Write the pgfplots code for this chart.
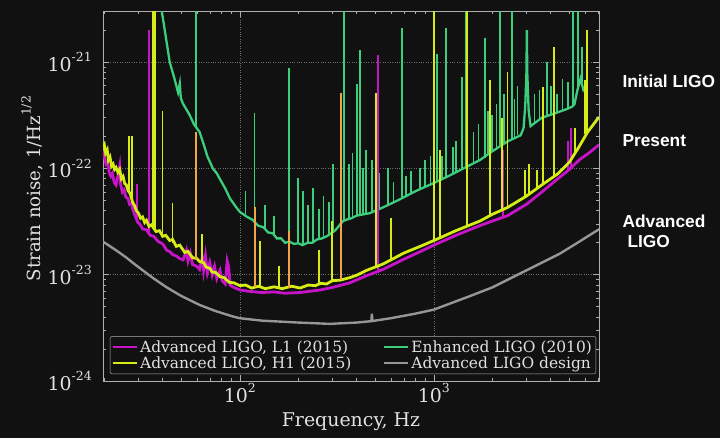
\documentclass[border=0pt]{standalone}
\usepackage{pgfplots}
\pgfplotsset{compat=1.18}
\usepackage{fontspec}
\setmainfont{DejaVu Serif}
\newfontfamily\annfont{Liberation Sans}

\definecolor{bgc}{RGB}{17,17,17}
\definecolor{txtc}{RGB}{225,225,225}
\definecolor{framec}{RGB}{175,175,175}
\definecolor{gridc}{RGB}{110,110,110}
\definecolor{lone}{RGB}{200,20,200}
\definecolor{hone}{RGB}{215,235,20}
\definecolor{enh}{RGB}{60,205,125}
\definecolor{des}{RGB}{150,150,150}
\definecolor{ovl}{RGB}{240,165,70}

\newcommand{\tsup}[1]{\raisebox{0.52em}{\fontsize{12.5}{12.5}\selectfont #1}}

\begin{document}
\begin{tikzpicture}
\fill[bgc] (0bp,0bp) rectangle (720bp,438bp);
\begin{axis}[
    at={(103bp,57bp)}, anchor=south west,
    scale only axis, width=496bp, height=370bp,
    xmode=log, ymode=log,
    xmin=19.7, xmax=7100, ymin=1e-24, ymax=3.03e-21,
    axis line style={framec, line width=0.8pt},
    tick align=inside, tick pos=both,
    major tick length=6bp, minor tick length=3bp,
    every tick/.style={framec, line width=0.6pt},
    grid=major, major grid style={gridc, dotted, line width=0.7pt},
    xtick={100,1000}, xticklabels={10\tsup{2},10\tsup{3}},
    minor xtick={20,30,40,50,60,70,80,90,200,300,400,500,600,700,800,900,2000,3000,4000,5000,6000,7000},
    ytick={1e-24,1e-23,1e-22,1e-21},
    yticklabels={10\tsup{-24},10\tsup{-23},10\tsup{-22},10\tsup{-21}},
    minor ytick={2e-24,3e-24,4e-24,5e-24,6e-24,7e-24,8e-24,9e-24,2e-23,3e-23,4e-23,5e-23,6e-23,7e-23,8e-23,9e-23,2e-22,3e-22,4e-22,5e-22,6e-22,7e-22,8e-22,9e-22,2e-21,3e-21},
    tick label style={font=\fontsize{19}{21}\selectfont, text=txtc},
    xticklabel style={anchor=north, inner sep=0pt, yshift=-2bp},
    yticklabel style={anchor=east, inner sep=0pt, xshift=-11bp},
    label style={text=txtc},
    xlabel={Frequency, Hz},
    xlabel style={font=\fontsize{19}{21}\selectfont, at={(axis description cs:0.5,-0.1216)}, anchor=base},
    ylabel={Strain noise, 1/Hz\tsup{1/2}},
    ylabel style={font=\fontsize{18.2}{20}\selectfont, at={(axis description cs:-0.127,0.52)}, anchor=base},
    legend columns=2,
    legend cell align=left,
    legend image code/.code={\draw[#1] (0bp,0bp) -- (24bp,0bp);},
    legend style={at={(0.014,0.019)}, anchor=south west, fill=bgc, draw=framec,
        rounded corners=2bp, text=txtc, font=\fontsize{15.5}{17}\selectfont,
        inner sep=2bp, row sep=-1bp,
        /tikz/every even column/.append style={column sep=30bp}},
    unbounded coords=jump,
]
% legend entries, row by row
\addlegendimage{lone, line width=2pt}
\addlegendentry{Advanced LIGO, L1 (2015)}
\addlegendimage{enh, line width=2pt}
\addlegendentry{Enhanced LIGO (2010)}
\addlegendimage{hone, line width=2pt}
\addlegendentry{Advanced LIGO, H1 (2015)}
\addlegendimage{des, line width=2pt}
\addlegendentry{Advanced LIGO design}

% Advanced LIGO design
\addplot[des, line width=2.4pt, forget plot] coordinates {
    (19.7,2.05e-23) (23,1.7e-23) (26,1.45e-23) (28,1.3e-23) (32,1.08e-23)
    (36,9.2e-24) (42,7.6e-24) (50,6.3e-24) (62,5.2e-24) (75,4.55e-24)
    (92,4.05e-24) (100,3.9e-24) (130,3.7e-24) (200,3.55e-24) (291,3.45e-24)
    (400,3.55e-24) (476,3.66e-24) (479,4.3e-24) (482,3.67e-24) (600,3.9e-24)
    (800,4.3e-24) (1000,4.7e-24) (1500,6.2e-24) (2000,7.6e-24) (2466,9.2e-24)
    (3000,1.1e-23) (4460,1.58e-23) (5500,2.0e-23) (7100,2.68e-23)
};

% Enhanced LIGO (2010)
\addplot[enh, line width=2.3pt, forget plot] coordinates {
    (38,4e-21) (39.6,3.0e-21) (41,2.0e-21) (43.5,1.0e-21) (46,7e-22)
    (48,5.2e-22) (49,6.3e-22) (49.6,4.6e-22) (50.8,4.1e-22) (55,3.2e-22)
    (58,2.6e-22) (62,2.2e-22) (65,1.7e-22) (68,1.3e-22) (72.6,1.0e-22)
    (76,9.0e-23) (80,7.6e-23) (84,6.5e-23) (89,5.2e-23) (95,4.4e-23)
    (100,3.9e-23) (109,3.5e-23) (116,3.3e-23) (124,2.9e-23) (132,2.8e-23)
    (140,2.5e-23) (148,2.45e-23) (155,2.2e-23) (163,2.2e-23) (171,2.0e-23)
    (180,2.05e-23) (190,1.95e-23) (200,1.98e-23) (210,1.9e-23) (224,2.0e-23)
    (236,2.0e-23) (250,2.15e-23) (265,2.2e-23) (280,2.3e-23) (295,2.45e-23)
    (309,2.6e-23) (320,2.8e-23) (330,3.0e-23) (340,3.2e-23) (355,3.3e-23)
    (375,3.4e-23) (400,3.6e-23) (468,3.8e-23) (546,4.3e-23) (650,5.0e-23)
    (817,6.2e-23) (1000,7.3e-23) (1208,8.6e-23) (1450,1.02e-22) (1726,1.2e-22)
    (2000,1.45e-22) (2400,1.8e-22) (2800,2.05e-22) (2900,2.4e-22) (2960,4e-22)
    (3000,8e-22) (3015,2.0e-21) (3030,8e-22) (3080,3.5e-22) (3150,2.5e-22)
    (3600,3.0e-22) (4200,3.3e-22) (4800,3.6e-22) (5140,3.8e-22) (5300,4.0e-22)
    (5500,5.5e-22) (5700,7e-22) (5900,5.5e-22) (6100,6.0e-22)
};
\addplot[enh, line width=1.7pt, forget plot] coordinates {
    (59.3,2.4e-22) (59.3,6e-21) (59.3,nan)
    (107,3.5e-23) (107,6.2e-23) (107,nan)
    (119,3.0e-23) (119,3.3e-22) (119,nan)
    (135,2.7e-23) (135,4.5e-23) (135,nan)
    (150,2.3e-23) (150,3.6e-23) (150,nan)
    (179,2.0e-23) (179,8.8e-22) (179,nan)
    (199,1.95e-23) (199,8.2e-23) (199,nan)
    (211,1.9e-23) (211,6.2e-23) (211,nan)
    (225,2.0e-23) (225,4.5e-23) (225,nan)
    (238,2.0e-23) (238,6.6e-23) (238,nan)
    (255,2.15e-23) (255,4.2e-23) (255,nan)
    (270,2.2e-23) (270,5.5e-23) (270,nan)
    (288,2.4e-23) (288,4.8e-23) (288,nan)
    (301,2.5e-23) (301,1.1e-22) (301,nan)
    (343,3.2e-23) (343,6e-21) (343,nan)
    (365,3.3e-23) (365,1.1e-22) (365,nan)
    (380,3.4e-23) (380,1.4e-22) (380,nan)
    (401,3.6e-23) (401,6.3e-22) (401,nan)
    (416,3.6e-23) (416,1.3e-21) (416,nan)
    (430,3.7e-23) (430,1.0e-22) (430,nan)
    (445,3.7e-23) (445,1.5e-22) (445,nan)
    (479,3.9e-23) (479,1.2e-22) (479,nan)
    (520,4.1e-23) (520,9e-23) (520,nan)
    (579,4.5e-23) (579,1.0e-22) (579,nan)
    (620,4.8e-23) (620,7.5e-23) (620,nan)
    (684,5.2e-23) (684,2.1e-21) (684,nan)
    (720,5.5e-23) (720,8.5e-23) (720,nan)
    (760,5.8e-23) (760,9.5e-23) (760,nan)
    (850,6.4e-23) (850,1.0e-22) (850,nan)
    (900,6.7e-23) (900,1.2e-22) (900,nan)
    (960,7.0e-23) (960,1.3e-22) (960,nan)
    (1034,7.5e-23) (1034,1.2e-21) (1034,nan)
    (1100,8.0e-23) (1100,1.3e-22) (1100,nan)
    (1153,8.3e-23) (1153,2.1e-21) (1153,nan)
    (1250,8.9e-23) (1250,1.6e-22) (1250,nan)
    (1300,9.3e-23) (1300,1.8e-22) (1300,nan)
    (1393,9.8e-23) (1393,7.2e-22) (1393,nan)
    (1462,1.03e-22) (1462,6e-21) (1462,nan)
    (1600,1.12e-22) (1600,2.2e-22) (1600,nan)
    (1700,1.18e-22) (1700,2.6e-22) (1700,nan)
    (1834,1.26e-22) (1834,1.7e-21) (1834,nan)
    (1900,1.35e-22) (1900,3.5e-22) (1900,nan)
    (2000,1.45e-22) (2000,3.2e-22) (2000,nan)
    (2100,1.55e-22) (2100,4e-22) (2100,nan)
    (2188,1.62e-22) (2188,6e-21) (2188,nan)
    (2300,1.72e-22) (2300,5e-22) (2300,nan)
    (2524,1.9e-22) (2524,6e-21) (2524,nan)
    (2600,1.95e-22) (2600,4.5e-22) (2600,nan)
    (2700,2.05e-22) (2700,6.0e-22) (2700,nan)
    (3300,2.7e-22) (3300,5.0e-22) (3300,nan)
    (3500,2.9e-22) (3500,5.5e-22) (3500,nan)
    (3820,3.1e-22) (3820,1.0e-21) (3820,nan)
    (4000,3.2e-22) (4000,6e-22) (4000,nan)
    (4300,3.35e-22) (4300,5e-22) (4300,nan)
    (4600,3.5e-22) (4600,7e-22) (4600,nan)
    (4900,3.7e-22) (4900,6.5e-22) (4900,nan)
    (5200,3.9e-22) (5200,6e-21) (5200,nan)
    (5520,5.5e-22) (5520,6e-21) (5520,nan)
    (5790,6.5e-22) (5790,1.4e-21) (5790,nan)
};

% Advanced LIGO, L1 (2015)
\addplot[lone, line width=2.8pt, forget plot] coordinates {
    (19.7,1.45e-22) (20,1.3e-22) (20.4,1.1e-22) (20.8,1.15e-22) (21.2,9.2e-23)
    (21.6,8.5e-23) (22,9.0e-23) (22.5,7.4e-23) (23,7.0e-23) (23.5,8.5e-23)
    (24,1.05e-22) (24.3,7.0e-23) (24.8,6.0e-23) (25.3,6.3e-23) (25.8,5.4e-23)
    (26.5,5.2e-23) (27,4.6e-23) (27.6,4.7e-23) (28.2,4.0e-23) (29,3.5e-23)
    (29.8,3.1e-23) (30.5,3.0e-23) (31.5,2.7e-23) (33,2.65e-23) (34.5,2.35e-23)
    (36,2.3e-23) (38,2.05e-23) (40,1.95e-23) (42,1.7e-23) (43.5,1.65e-23)
    (45,1.55e-23) (47,1.5e-23) (49,1.42e-23) (51,1.38e-23) (53,1.7e-23)
    (54,1.35e-23) (55.5,1.6e-23) (57,1.25e-23) (60,1.2e-23) (62,1.12e-23)
    (64,1.45e-23) (65,1.1e-23) (66.5,1.5e-23) (68,1.05e-23) (70,1.3e-23)
    (72,1.0e-23) (74,1.2e-23) (76,9.2e-24) (79,1.1e-23) (81,8.8e-24)
    (84,8.2e-24) (86,1.35e-23) (87.5,1.2e-23) (89,8.0e-24) (93,7.6e-24)
    (100,7.2e-24) (110,7.0e-24) (130,6.8e-24) (150,6.9e-24) (170,6.7e-24)
    (204,6.8e-24) (230,7.0e-24) (260,7.2e-24) (300,7.6e-24) (369,8.4e-24)
    (450,9.8e-24) (546,1.12e-23) (700,1.4e-23) (850,1.65e-23) (1000,1.9e-23)
    (1300,2.35e-23) (1726,2.9e-23) (2000,3.2e-23) (2400,3.6e-23) (3000,4.6e-23)
    (3600,6.0e-23) (4350,8.0e-23) (5000,9.8e-23) (5600,1.2e-22) (6300,1.4e-22)
    (7100,1.67e-22)
};
\addplot[lone, line width=1.6pt, forget plot] coordinates {
    (29.4,3.3e-23) (29.4,7.2e-23) (29.4,nan)
    (34,2.5e-23) (34,2.0e-21) (34,nan)
    (514,1.05e-23) (514,1.17e-21) (514,nan)
    (2265,3.4e-23) (2265,1.5e-22) (2265,nan)
    (4910,9.6e-23) (4910,1.8e-22) (4910,nan)
    (5100,1.0e-22) (5100,2.4e-22) (5100,nan)
};

% Advanced LIGO, H1 (2015)
\addplot[hone, line width=2.8pt, forget plot] coordinates {
    (19.7,1.6e-22) (20,1.68e-22) (20.3,1.4e-22) (20.7,1.5e-22) (21,1.2e-22)
    (21.4,1.28e-22) (21.8,1.05e-22) (22.2,1.1e-22) (22.6,9.8e-23) (23,1.02e-22)
    (23.5,9.2e-23) (24,9.8e-23) (24.5,8.0e-23) (25,8.4e-23) (25.5,7.2e-23)
    (26,7.0e-23) (26.5,6.2e-23) (27.2,5.8e-23) (28,4.8e-23) (28.6,4.5e-23)
    (29.3,4.0e-23) (30,3.8e-23) (30.8,3.4e-23) (31.5,3.5e-23) (32.3,3.1e-23)
    (33,3.25e-23) (34,2.85e-23) (35,2.95e-23) (37,2.55e-23) (38.5,2.6e-23)
    (40,2.3e-23) (41.5,2.35e-23) (43.5,2.1e-23) (45,2.15e-23) (47,1.85e-23)
    (49,1.9e-23) (52,1.62e-23) (54,1.66e-23) (57,1.45e-23) (60,1.42e-23)
    (62,1.33e-23) (65,1.3e-23) (67,1.18e-23) (70,1.15e-23) (72,1.06e-23)
    (75,1.05e-23) (79,9.6e-24) (83,9.4e-24) (88,8.5e-24) (93,8.4e-24)
    (100,7.9e-24) (107,8.0e-24) (115,7.5e-24) (125,7.8e-24) (135,7.4e-24)
    (150,7.7e-24) (165,7.4e-24) (185,7.8e-24) (204,7.5e-24) (225,8.0e-24)
    (245,7.9e-24) (260,8.3e-24) (280,8.2e-24) (300,8.8e-24) (330,8.9e-24)
    (369,9.4e-24) (400,9.9e-24) (450,1.1e-23) (546,1.26e-23) (700,1.6e-23)
    (850,1.85e-23) (1000,2.1e-23) (1300,2.6e-23) (1726,3.2e-23) (2000,3.7e-23)
    (2400,4.3e-23) (3000,5.5e-23) (3600,7.0e-23) (4350,8.9e-23) (5000,1.15e-22)
    (5600,1.6e-22) (6200,2.2e-22) (7100,3.05e-22)
};
\addplot[hone, line width=1.6pt, forget plot] coordinates {
    (26.8,6.0e-23) (26.8,2.0e-22) (26.8,nan)
    (27.7,5.0e-23) (27.7,2.0e-22) (27.7,nan)
    (35.5,2.7e-23) (35.5,6e-21) (35.5,nan)
    (36.0,2.7e-23) (36.0,6e-21) (36.0,nan)
    (36.5,2.6e-23) (36.5,6e-21) (36.5,nan)
    (40,2.3e-23) (40,3.5e-22) (40,nan)
    (45,2.0e-23) (45,4.7e-23) (45,nan)
    (63.7,1.3e-23) (63.7,2.4e-23) (63.7,nan)
    (126.8,7.6e-24) (126.8,2.1e-23) (126.8,nan)
    (159,7.5e-24) (159,1.2e-23) (159,nan)
    (255,8.2e-24) (255,1.7e-23) (255,nan)
    (298,8.7e-24) (298,3.2e-23) (298,nan)
    (502,1.2e-23) (502,5.1e-22) (502,nan)
    (600,1.35e-23) (600,3.4e-23) (600,nan)
    (1000,2.1e-23) (1000,6e-21) (1000,nan)
    (1075,2.2e-23) (1075,1.5e-22) (1075,nan)
    (1480,2.8e-23) (1480,6e-21) (1480,nan)
    (1945,3.6e-23) (1945,6.8e-22) (1945,nan)
    (2245,4.0e-23) (2245,3.0e-22) (2245,nan)
    (2400,4.3e-23) (2400,8e-22) (2400,nan)
    (2943,5.4e-23) (2943,9.6e-23) (2943,nan)
    (3100,5.8e-23) (3100,1.1e-22) (3100,nan)
    (3396,6.5e-23) (3396,9.6e-23) (3396,nan)
    (3648,7.1e-23) (3648,5.8e-22) (3648,nan)
    (4160,8.4e-23) (4160,1.4e-21) (4160,nan)
    (5330,1.4e-22) (5330,2.4e-22) (5330,nan)
    (6000,2.1e-22) (6000,6.8e-22) (6000,nan)
    (6150,2.2e-22) (6150,2.0e-21) (6150,nan)
};
% lines seen in both L1 and H1
\addplot[ovl, line width=1.6pt, forget plot] coordinates {
    (59.5,1.38e-23) (59.5,2.2e-22) (59.5,nan)
    (119.5,7.6e-24) (119.5,4.3e-23) (119.5,nan)
    (179.5,7.5e-24) (179.5,2.6e-23) (179.5,nan)
    (332,9.0e-24) (332,5.1e-22) (332,nan)
};
\end{axis}
\node[anchor=base west, text=white, font=\annfont\bfseries\fontsize{17.4}{20}\selectfont] at (619bp,350bp) {Initial LIGO};
\node[anchor=base west, text=white, font=\annfont\bfseries\fontsize{17.4}{20}\selectfont] at (619bp,291bp) {Present};
\node[anchor=base west, text=white, font=\annfont\bfseries\fontsize{17.4}{20}\selectfont] at (619bp,210bp) {Advanced};
\node[anchor=base west, text=white, font=\annfont\bfseries\fontsize{17.4}{20}\selectfont] at (624bp,190bp) {LIGO};
\end{tikzpicture}
\end{document}
